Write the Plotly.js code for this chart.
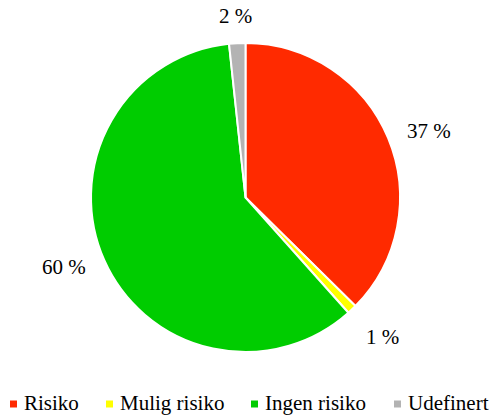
<!DOCTYPE html>
<html><head><meta charset="utf-8">
<script src="https://cdn.plot.ly/plotly-3.0.1.min.js"></script>
<style>body{margin:0;padding:0;background:#fff}#chart{width:493px;height:415px}</style>
</head><body><div id="chart"></div>
<script>
const categories = ["Risiko", "Mulig risiko", "Ingen risiko", "Udefinert"];
const values = [37.4, 1.0, 59.9, 1.7];
const labelsText = ["37 %", "1 %", "60 %", "2 %"];
const colors = ["#ff2a00", "#ffff00", "#00cc00", "#b3b3b3"];

const FONT = "'Liberation Serif', 'Times New Roman', serif";
const FS = 21;
const W = 493, H = 415;
const cx = 245.5, cy = 197.5, R = 154.5;

const trace = {
  type: "pie",
  labels: categories,
  values: values,
  textinfo: "none",
  sort: false,
  direction: "clockwise",
  rotation: 0,
  marker: {colors: colors, line: {color: "#ffffff", width: 2}},
  hoverinfo: "none",
  showlegend: false,
  domain: {x: [(cx - R) / W, (cx + R) / W], y: [1 - (cy + R) / H, 1 - (cy - R) / H]}
};

// Data labels placed just outside the pie at each slice's mid-angle
const total = values.reduce((a, b) => a + b, 0);
const annotations = [];
let cum = 0;
values.forEach((v, i) => {
  const mid = (cum + v / 2) / total * 2 * Math.PI;
  cum += v;
  const s = Math.sin(mid), c = Math.cos(mid);
  let d = R + 18;
  let yanchor = "middle";
  if (c < -0.5) yanchor = "top";
  else if (c > 0.5) d += 9;
  const px = cx + d * s, py = cy - d * c;
  annotations.push({
    xref: "paper", yref: "paper", x: px / W, y: 1 - py / H,
    xanchor: s > 0.2 ? "left" : (s < -0.2 ? "right" : "center"),
    yanchor: yanchor,
    showarrow: false,
    text: labelsText[i], font: {family: FONT, size: FS, color: "#000"}
  });
});

// Legend along the bottom
const legendMarkerX = [10, 106, 251, 394];
const shapes = [];
categories.forEach((name, i) => {
  const x0 = legendMarkerX[i];
  shapes.push({type: "rect", xref: "paper", yref: "paper",
    x0: x0 / W, x1: (x0 + 7) / W, y0: 1 - 407.5 / H, y1: 1 - 400.5 / H,
    fillcolor: colors[i], line: {width: 0}});
  annotations.push({
    xref: "paper", yref: "paper", x: (x0 + 12) / W, y: 1 - 403 / H,
    xanchor: "left", yanchor: "middle", showarrow: false,
    text: name, font: {family: FONT, size: FS, color: "#000"}
  });
});

const layout = {
  width: W, height: H,
  margin: {l: 0, r: 0, t: 0, b: 0},
  paper_bgcolor: "#fff",
  showlegend: false,
  annotations: annotations,
  shapes: shapes
};

Plotly.newPlot("chart", [trace], layout, {displayModeBar: false, staticPlot: true});
</script></body></html>
